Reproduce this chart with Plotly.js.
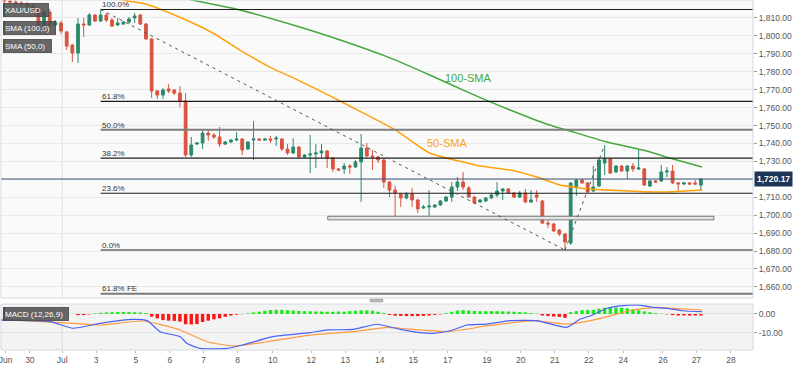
<!DOCTYPE html>
<html><head><meta charset="utf-8">
<script src="https://cdn.plot.ly/plotly-3.0.1.min.js"></script>
<style>html,body{margin:0;padding:0;background:#fff;}#chart{width:800px;height:367px;}</style>
</head><body><div id="chart"></div>
<script>
// ---- data (4h candles, index 0 = Jul 1 00:00) ----
const firstIdx = -10;
const openP = [1821.1,1819.4,1818.9,1818.3,1817.8,1816.7,1814.4,1804.9,1813.3,1806.1,
1807.2,1802.2,1794.9,1790.4,1806.6,1806.1,1811.6,1808.3,1811.6,1808.8,
1806.1,1806.6,1807.7,1810.0,1811.6,1806.6,1798.3,1769.3,1767.0,1770.4,
1769.8,1768.1,1763.7,1733.6,1739.7,1740.3,1745.8,1744.7,1743.6,1739.7,
1740.8,1741.9,1742.5,1736.9,1741.9,1742.5,1741.9,1742.5,1742.5,1742.5,
1736.9,1734.7,1738.0,1732.5,1733.6,1734.1,1734.7,1735.8,1731.9,1725.8,
1725.8,1727.4,1726.9,1729.7,1737.5,1733.0,1732.5,1730.8,1718.5,1714.0,
1711.8,1709.6,1711.8,1708.5,1704.0,1704.6,1704.6,1705.7,1707.9,1710.1,
1715.7,1718.5,1715.2,1710.1,1707.4,1707.9,1709.6,1711.3,1713.5,1714.6,
1712.4,1710.1,1712.4,1707.4,1711.3,1707.9,1695.6,1695.1,1691.7,1689.5,
1684.5,1715.7,1719.6,1718.0,1713.5,1716.3,1729.1,1731.3,1724.1,1727.4,
1724.6,1727.4,1725.8,1725.8,1716.3,1719.1,1719.1,1724.1,1724.6,1718.0,
1717.4,1718.0,1718.0,1716.8];
const highP = [1823.3,1820.5,1820.2,1819.4,1818.9,1817.8,1815.5,1814.4,1815.0,1808.8,
1808.3,1802.7,1795.5,1810.0,1810.0,1812.8,1812.2,1814.7,1812.8,1810.0,
1810.0,1808.3,1810.5,1812.8,1812.2,1807.2,1798.8,1769.8,1770.9,1773.2,
1770.4,1772.0,1768.1,1743.6,1740.8,1747.5,1747.5,1745.8,1749.2,1741.4,
1742.5,1746.4,1743.0,1741.4,1752.5,1743.0,1743.0,1744.2,1744.2,1743.0,
1739.7,1743.0,1738.6,1734.1,1744.7,1739.7,1739.7,1736.4,1732.5,1726.3,
1729.1,1728.5,1730.8,1745.3,1740.3,1736.4,1733.0,1731.9,1719.1,1716.3,
1712.4,1712.9,1715.2,1709.0,1705.7,1714.0,1706.2,1708.5,1710.7,1718.5,
1721.3,1724.1,1716.3,1710.7,1709.0,1710.1,1712.4,1718.5,1715.2,1715.2,
1713.0,1713.5,1714.6,1714.0,1714.0,1708.5,1697.3,1695.6,1692.3,1690.1,
1718.5,1720.2,1720.2,1718.5,1727.4,1731.9,1739.1,1731.9,1728.0,1728.0,
1728.0,1729.1,1736.4,1726.3,1719.6,1719.6,1728.0,1726.9,1728.0,1718.5,
1718.5,1718.5,1719.6,1720.5];
const lowP = [1818.3,1817.8,1817.2,1816.7,1815.0,1813.3,1803.3,1803.3,1804.9,1804.9,
1801.0,1792.1,1785.4,1784.9,1799.4,1805.5,1807.7,1807.7,1807.7,1804.9,
1805.5,1806.1,1806.6,1807.2,1806.1,1797.7,1765.4,1764.8,1764.8,1768.1,
1767.0,1760.3,1732.5,1732.5,1739.1,1736.9,1741.4,1742.5,1738.0,1739.1,
1740.3,1741.4,1733.6,1736.4,1730.8,1741.4,1741.4,1740.3,1738.6,1735.8,
1733.6,1734.1,1731.9,1731.9,1723.5,1726.3,1731.9,1726.3,1724.1,1724.6,
1723.0,1723.0,1726.3,1707.4,1732.5,1725.2,1729.1,1715.2,1710.1,1698.4,
1704.6,1709.0,1704.6,1701.2,1703.5,1699.0,1704.0,1705.1,1707.4,1707.4,
1713.5,1714.0,1709.6,1706.2,1706.8,1707.4,1709.0,1710.1,1708.5,1712.0,
1709.6,1709.6,1706.8,1706.8,1707.4,1695.1,1692.9,1690.6,1688.4,1680.6,
1683.4,1710.7,1717.4,1712.4,1712.9,1715.7,1722.4,1723.0,1723.5,1724.1,
1720.2,1724.1,1725.2,1716.3,1715.7,1718.0,1718.5,1721.3,1717.4,1713.5,
1716.8,1716.8,1716.8,1713.5];
const closeP = [1819.4,1818.9,1818.3,1817.8,1816.7,1814.4,1804.9,1813.3,1806.1,1807.7,
1802.7,1794.3,1790.4,1806.6,1806.1,1811.6,1808.3,1811.6,1808.8,1805.5,
1807.2,1807.7,1809.4,1811.1,1806.6,1798.3,1769.3,1767.0,1769.8,1769.3,
1768.1,1763.7,1733.6,1739.1,1740.3,1745.8,1744.7,1743.6,1739.7,1740.8,
1741.9,1742.5,1736.4,1740.8,1742.5,1741.9,1742.5,1741.9,1743.0,1736.9,
1734.7,1738.0,1732.5,1733.6,1734.1,1734.7,1735.8,1731.9,1725.8,1725.2,
1727.4,1726.9,1729.7,1737.5,1733.0,1732.5,1730.8,1718.5,1714.0,1712.4,
1709.6,1711.8,1708.5,1703.5,1704.6,1705.1,1705.7,1707.9,1710.1,1715.7,
1718.5,1715.7,1710.1,1706.8,1708.5,1709.6,1711.3,1713.5,1714.6,1712.4,
1710.1,1712.4,1707.4,1708.5,1710.1,1695.6,1695.1,1691.2,1689.5,1685.1,
1717.9,1719.6,1718.0,1712.9,1715.7,1730.8,1731.3,1723.5,1727.4,1724.6,
1727.4,1725.8,1726.3,1716.8,1719.1,1718.5,1724.1,1724.6,1718.0,1717.4,
1718.0,1717.4,1717.4,1720.17];

// SMA lines (candle index, price)
const sma100Idx = [15,23.1,31.6,40.4,49.3,58.1,65.1,72.2,79.3,86.3,89.3,96.4,103.4,107.5,113.2];
const sma100Val = [1825.3,1820.0,1814.4,1806.6,1797.7,1787.7,1778.2,1768.1,1758.7,1750.3,1747.5,1740.8,1735.8,1731.9,1726.9];
const sma50Idx = [9.5,10.9,15.2,21.7,26.8,31.6,36.9,42.2,47.5,52.3,59.3,65.1,71.7,74.0,79.3,84.6,88.1,91.6,93.4,100.5,106.3,113.2];
const sma50Val = [1821.7,1820.0,1817.5,1809.4,1801.6,1792.1,1782.6,1774.8,1766.5,1758.7,1747.0,1734.7,1729.1,1727.4,1725.2,1720.7,1716.8,1715.2,1714.6,1713.5,1712.9,1714.0];

// MACD (12,26,9)
const macdIdx = [-10.8,-1.9,2.1,6.9,12.7,15.2,17.5,21.0,22.2,24.5,29.3,32.1,37.4,44.0,47.0,51.6,55.8,59.9,63.4,65.7,68.7,71.7,75.2,79.3,84.0,89.3,91.6,93.9,96.4,99.2,102.2,104.5,107.0,109.8,113.2];
const macdVal = [-3.2,-4.0,-7.5,-4.9,-2.8,-3.5,-9.3,-11.9,-15.4,-18.1,-18.1,-16.3,-11.9,-9.8,-8.4,-8.1,-5.4,-8.1,-9.8,-10.2,-8.8,-5.8,-5.3,-3.5,-3.5,-7.0,-2.8,-0.5,3.0,4.4,4.7,3.5,3.0,1.7,1.2];
const sigIdx = [-10.8,2.1,6.9,14.5,21.0,25.8,30.4,36.4,44.0,51.6,57.6,59.9,68.2,75.2,83.3,89.3,93.9,98.2,101.0,105.2,108.1,113.2];
const sigVal = [-2.8,-4.9,-5.8,-3.7,-8.4,-14.6,-16.8,-14.6,-11.1,-9.3,-7.0,-7.5,-9.3,-6.3,-3.5,-5.3,-3.2,0,2.1,3.5,3.0,2.1];
const histFirstIdx = 3;
const histVal = [-0.6,-0.6,-0.2,0.3,0.6,0.8,0.9,1.0,1.0,1.0,0.9,0.8,0.5,
-1.4,-2.3,-3.2,-3.5,-3.6,-4.0,-5.4,-5.5,-5.3,-4.2,-3.5,-2.8,-2.3,-1.5,-0.8,-0.4,-0.1,
0.3,0.8,1.2,1.7,2.1,2.2,2.2,2.0,1.8,1.6,1.5,1.4,1.3,1.3,1.2,1.2,1.3,1.2,1.5,1.7,1.9,1.9,1.7,1.2,0.5,
-0.5,-0.9,-1.0,-1.1,-1.1,-1.1,-1.0,-0.8,-0.5,-0.2,
0.4,1.2,1.8,2.0,1.8,1.6,1.5,1.5,1.5,1.5,1.4,1.3,1.2,1.0,0.8,0.5,0.2,
-0.8,-1.1,-1.3,-1.5,-2.0,
1.0,1.5,2.0,2.1,2.2,2.8,3.3,3.5,3.4,3.2,3.0,2.5,2.0,1.4,0.9,0.4,0.1,
-0.2,-0.6,-0.8,-0.8,-0.8,-0.8,-0.8];

// Fibonacci anchors
const swingHigh = {idx: 7, price: 1814.7};
const swingLow = {idx: 89, price: 1680.6};
const pullbackHigh = {idx: 96, price: 1739.1};
const fibRatios = [1, 0.618, 0.5, 0.382, 0.236, 0];
const fibLabels = ['100.0%', '61.8%', '50.0%', '38.2%', '23.6%', '0.0%'];
const feRatio = 0.618, feLabel = '61.8% FE';
const supportZone = {idx0: 47.1, idx1: 115.3, lo: 1697.4, hi: 1699.4};
const lastPrice = 1720.17;

const tickPos = [-9.8,-5.5,0.2,6.2,13.2,19.2,25.2,31.2,37.4,44.2,50.2,56.3,62.2,68.3,75.2,81.2,87.2,93.2,99.3,106.3,112.2,118.3];
const tickText = ['Jun','30','Jul','3','5','6','7','8','10','12','13','14','15','17','19','20','21','22','24','26','27','28'];
const priceTicks = [1660,1670,1680,1690,1700,1710,1730,1740,1750,1760,1770,1780,1790,1800,1810];
const priceGrid = [1720];
const macdTicks = [0, -10];
const macdTickText = ['0.00', '-10.00'];

// ---- chart ----
const xRange = [-10.6, 122.2];
const idx = openP.map((_, i) => i + firstIdx);
const histIdx = histVal.map((_, i) => i + histFirstIdx);
const W = 800, H = 367, ML = 1, MR = 47, MT = 0, MB = 17;
const PW = W - ML - MR, PH = H - MT - MB;
const px = x => (x - ML) / PW;
const py = y => (PH - (y - MT)) / PH;
const FONT = 'Liberation Sans, Arial, sans-serif';

const traces = [
  {type:'candlestick', x: idx, open: openP, high: highP, low: lowP, close: closeP,
   xaxis:'x', yaxis:'y', whiskerwidth:0, hoverinfo:'skip',
   increasing:{line:{color:'#2b8a6d', width:1}, fillcolor:'#2b8a6d'},
   decreasing:{line:{color:'#d9543f', width:1}, fillcolor:'#d9543f'}},
  {type:'scatter', mode:'lines', x: sma100Idx, y: sma100Val, xaxis:'x', yaxis:'y',
   line:{color:'#45a83c', width:1.5, shape:'spline', smoothing:0.6}, hoverinfo:'skip'},
  {type:'scatter', mode:'lines', x: sma50Idx, y: sma50Val, xaxis:'x', yaxis:'y',
   line:{color:'#ffa10a', width:1.5, shape:'spline', smoothing:0.6}, hoverinfo:'skip'},
  {type:'bar', x: histIdx, y: histVal, xaxis:'x', yaxis:'y2',
   marker:{color: histVal.map(v => v >= 0 ? '#1ee81e' : '#ff1414')}, hoverinfo:'skip'},
  {type:'scatter', mode:'lines', x: sigIdx, y: sigVal, xaxis:'x', yaxis:'y2',
   line:{color:'#ff9a3c', width:1.2, shape:'spline', smoothing:0.5}, hoverinfo:'skip'},
  {type:'scatter', mode:'lines', x: macdIdx, y: macdVal, xaxis:'x', yaxis:'y2',
   line:{color:'#4a62f5', width:1.2, shape:'spline', smoothing:0.5}, hoverinfo:'skip'}
];

const fibLevel = r => swingLow.price + r * (swingHigh.price - swingLow.price);
const shapes = [];
const annotations = [];

// MACD panel background
shapes.push({type:'rect', xref:'paper', yref:'y2 domain', x0:0, x1:1, y0:0, y1:1,
  fillcolor:'#f3f3f3', line:{width:0}, layer:'below'});
// month-start gridline
const julPos = tickPos[tickText.indexOf('Jul')];
['y domain','y2 domain'].forEach(r => shapes.push({type:'line', xref:'x', yref:r, x0:julPos, x1:julPos, y0:0, y1:1,
  line:{color:'#dedede', width:1}, layer:'below'}));
// gridline hidden behind last-price label
priceGrid.forEach(v => shapes.push({type:'line', xref:'paper', yref:'y', x0:0, x1:1, y0:v, y1:v,
  line:{color:'#e9e9e9', width:1}, layer:'below'}));

// support zone
shapes.push({type:'rect', xref:'x', yref:'y', x0:supportZone.idx0, x1:supportZone.idx1,
  y0:supportZone.lo, y1:supportZone.hi, fillcolor:'#e4e4e4', line:{color:'#7a7a7a', width:1}});

// fib lines + labels
fibRatios.forEach((r, i) => {
  const lv = fibLevel(r);
  const mid = r === 0.5;
  shapes.push({type:'line', xref:'x', yref:'y', x0:swingHigh.idx, x1:xRange[1], y0:lv, y1:lv,
    line:{color: mid ? '#7d7d7d' : '#1c1c1c', width: mid ? 2 : 1.2}});
  annotations.push({xref:'x', yref:'y', x:swingHigh.idx, y:lv, xanchor:'left', yanchor:'bottom',
    text:fibLabels[i], showarrow:false, font:{family:FONT, size:8, color:'#333'}, xshift:-1, yshift:-2});
});
const feLevel = pullbackHigh.price - feRatio * (swingHigh.price - swingLow.price);
shapes.push({type:'line', xref:'x', yref:'y', x0:swingHigh.idx, x1:xRange[1], y0:feLevel, y1:feLevel,
  line:{color:'#7a7a7a', width:2}});
annotations.push({xref:'x', yref:'y', x:swingHigh.idx, y:feLevel, xanchor:'left', yanchor:'bottom',
  text:feLabel, showarrow:false, font:{family:FONT, size:8, color:'#333'}, xshift:-1, yshift:-1});

// dashed trend lines
shapes.push({type:'line', xref:'x', yref:'y', x0:swingHigh.idx, y0:swingHigh.price, x1:swingLow.idx, y1:swingLow.price,
  line:{color:'#555', width:1, dash:'3px,4px'}});
shapes.push({type:'line', xref:'x', yref:'y', x0:swingLow.idx, y0:swingLow.price, x1:pullbackHigh.idx, y1:pullbackHigh.price,
  line:{color:'#555', width:1, dash:'3px,4px'}});

// current price line
shapes.push({type:'line', xref:'paper', yref:'y', x0:0, x1:1, y0:lastPrice, y1:lastPrice,
  line:{color:'#3d5675', width:1}});
annotations.push({xref:'paper', yref:'y', x:1, y:lastPrice, xanchor:'left', yanchor:'middle', xshift:1,
  text:'<b>' + lastPrice.toLocaleString('en-US',{minimumFractionDigits:2}) + '</b>', showarrow:false,
  bgcolor:'#1d3658', borderpad:2, font:{family:FONT, size:8.5, color:'#fff'}});

// panel borders
['y domain','y2 domain'].forEach(r => shapes.push({type:'rect', xref:'paper', yref:r, x0:0, x1:1, y0:0, y1:1,
  line:{color:'#d3d9e0', width:1}}));
// splitter handle
shapes.push({type:'rect', xref:'paper', yref:'paper', x0:px(370), x1:px(383), y0:py(302), y1:py(299),
  fillcolor:'#b8b8b8', line:{color:'#999', width:0.5}});

// SMA labels
annotations.push({xref:'x', yref:'y', x:67.4, y:1776.5, xanchor:'left', yanchor:'middle', text:'100-SMA',
  showarrow:false, font:{family:FONT, size:11, color:'#45a83c'}});
annotations.push({xref:'x', yref:'y', x:64.3, y:1740.5, xanchor:'left', yanchor:'middle', text:'50-SMA',
  showarrow:false, font:{family:FONT, size:11, color:'#ffa10a'}});

// legend boxes
const legends = [
  {text:'XAU/USD', top:3, w:52, stripe:'#1e7a66'},
  {text:'SMA (100,0)', top:21, w:59, stripe:'#45a83c'},
  {text:'SMA (50,0)', top:39, w:55, stripe:'#ffa10a'},
  {text:'MACD (12,26,9)', top:307, w:72, stripe:'#2d55f0'}
];
legends.forEach(l => {
  annotations.push({xref:'paper', yref:'paper', x:px(3), y:py(l.top), xanchor:'left', yanchor:'top',
    text:l.text, showarrow:false, align:'left', width:l.w - 10, height:10, borderpad:1, borderwidth:1,
    bordercolor:'rgba(75,75,75,0.85)', bgcolor:'rgba(75,75,75,0.85)', xshift:0,
    font:{family:FONT, size:8, color:'#fff'}});
  shapes.push({type:'rect', xref:'paper', yref:'paper', x0:px(3), x1:px(5), y0:py(l.top + 14), y1:py(l.top),
    fillcolor:l.stripe, line:{width:0}});
});

const layout = {
  width:W, height:H, margin:{l:ML, r:MR, t:MT, b:MB},
  paper_bgcolor:'#ffffff', plot_bgcolor:'#fafafa',
  showlegend:false, bargap:0.4, boxgap:0.3,
  font:{family:FONT, size:8.5, color:'#555'},
  xaxis:{anchor:'y2', range:xRange, tickmode:'array', tickvals:tickPos, ticktext:tickText,
    showgrid:false, zeroline:false, showline:false, ticks:'outside', ticklen:2, tickcolor:'#bbb',
    ticklabeloverflow:'allow',
    tickfont:{family:FONT, size:8.5, color:'#555'}, rangeslider:{visible:false}, fixedrange:true},
  yaxis:{domain:[(PH - 298) / PH, 1], range:[1820 - 298 / 1.7933, 1820], side:'right',
    tickmode:'array', tickvals:priceTicks, tickformat:',.2f', gridcolor:'#e9e9e9', zeroline:false,
    ticks:'outside', ticklen:3, tickcolor:'#999', tickfont:{family:FONT, size:8.5, color:'#555'}, showline:false},
  yaxis2:{domain:[0, (PH - 304) / PH], range:[-18.95, 5.26], side:'right',
    tickmode:'array', tickvals:macdTicks, ticktext:macdTickText, gridcolor:'#e2e2e2', zeroline:false,
    ticks:'outside', ticklen:3, tickcolor:'#999', tickfont:{family:FONT, size:8.5, color:'#555'}, showline:false},
  shapes:shapes, annotations:annotations
};

Plotly.newPlot('chart', traces, layout, {displayModeBar:false, staticPlot:true});
</script></body></html>
